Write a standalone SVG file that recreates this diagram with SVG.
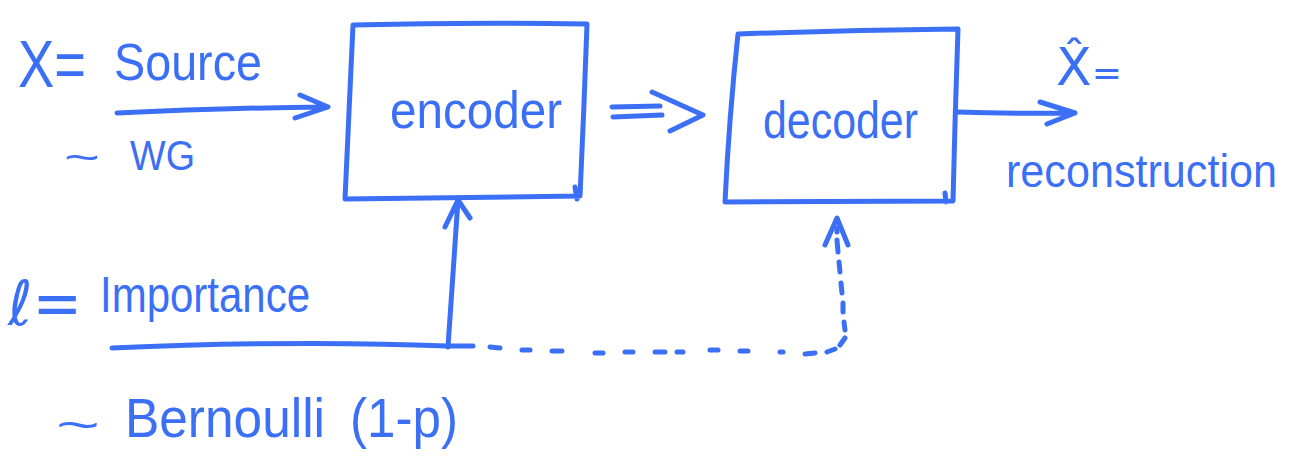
<svg xmlns="http://www.w3.org/2000/svg" width="1298" height="456" viewBox="0 0 1298 456">
<style>
.ink{fill:none;stroke:#3b6ff6;stroke-width:5;stroke-linecap:round;stroke-linejoin:round}
.t{fill:#3b6ff6;font-family:"Liberation Sans","DejaVu Sans",sans-serif}
.d{fill:#3b6ff6;font-family:"DejaVu Sans","Liberation Sans",sans-serif}
</style>
<rect width="1298" height="456" fill="#ffffff"/>
<g id="labels">
<text class="t" font-size="66" x="18" y="87" textLength="68" lengthAdjust="spacingAndGlyphs">X=</text>
<text class="t" font-size="52" x="114" y="80" textLength="148" lengthAdjust="spacingAndGlyphs">Source</text>
<text class="t" font-size="40" x="64" y="171" textLength="36" lengthAdjust="spacingAndGlyphs">~</text>
<text class="t" font-size="42" x="130" y="170" textLength="65" lengthAdjust="spacingAndGlyphs">WG</text>
<text class="d" font-size="62" x="8" y="325" textLength="74" lengthAdjust="spacingAndGlyphs">ℓ=</text>
<text class="t" font-size="50" x="100" y="312" textLength="210" lengthAdjust="spacingAndGlyphs">Importance</text>
<text class="t" font-size="44" x="56" y="440" textLength="44" lengthAdjust="spacingAndGlyphs">~</text>
<text class="t" font-size="55" x="125" y="437" textLength="200" lengthAdjust="spacingAndGlyphs">Bernoulli</text>
<text class="t" font-size="55" x="350" y="437" textLength="108" lengthAdjust="spacingAndGlyphs">(1-p)</text>
<text class="d" font-size="52" x="1056" y="85">X̂<tspan font-size="36">=</tspan></text>
<text class="t" font-size="46" x="1006" y="187" textLength="271" lengthAdjust="spacingAndGlyphs">reconstruction</text>
</g>
<g id="encoder">
<path class="ink" d="M353,25 Q470,22 587,24 Q584,110 580,196 L345,199 Q349,110 353,25 Z M575,187 L577,199"/>
<text class="t" font-size="52" x="390" y="128" textLength="172" lengthAdjust="spacingAndGlyphs">encoder</text>
</g>
<g id="decoder">
<path class="ink" d="M738,34 Q848,30 958,29 Q955,115 953,201 L725,202 Q729,118 738,34 Z M945,193 L946,202"/>
<text class="t" font-size="52" x="763" y="138" textLength="155" lengthAdjust="spacingAndGlyphs">decoder</text>
</g>
<g id="connectors">
<path class="ink" d="M117,113 Q220,108 328,107 M300,95 L328,107 L295,118"/>
<path class="ink" d="M612,107 L660,106 M613,117 L662,115 M652,92 L703,115 L670,131"/>
<path class="ink" d="M956,112 Q1015,114 1075,113 M1040,102 L1075,113 L1047,124"/>
<path class="ink" d="M112,348 Q300,340 447,346 L473,346 M448,347 L458,200 M445,227 L458,200 L470,218"/>
<path class="ink" d="M490,347 L500,348 M522,350 L530,350 M552,351 L562,351 M595,353 L603,353 M625,352 L633,352 M655,352 L665,352 M677,352 L683,352 M710,350 L718,350 M740,351 L748,351 M780,352 L783,352 M805,354 L815,353 M827,352 L835,349 M840,345 L845,338 M845,330 L844,322 M843,312 L843,303 M842,293 L841,283 M840,272 L839,262 M838,252 L837,240 M837,232 L837,228"/>
<path class="ink" d="M825,245 L837,218 L848,245"/>
</g>
</svg>
